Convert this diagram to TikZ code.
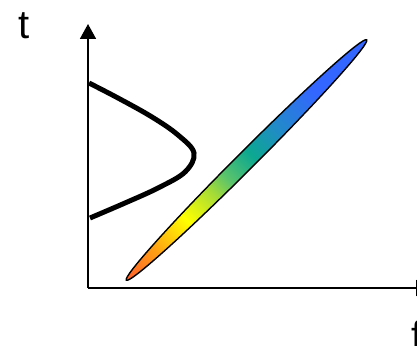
\documentclass[tikz,border=0pt]{standalone}
\usepackage{fontspec}
\setmainfont{Liberation Sans}
\usetikzlibrary{arrows.meta}
\definecolor{RedOrange}{HTML}{FF5E2C}
\definecolor{Amber}{HTML}{FF9E14}
\definecolor{Lemon}{HTML}{FFFF00}
\definecolor{Lime}{HTML}{A6DC36}
\definecolor{Leaf}{HTML}{5CC46A}
\definecolor{Teal}{HTML}{0CA890}
\definecolor{Steel}{HTML}{2388CC}
\definecolor{Royal}{HTML}{3366FF}
\pgfdeclarehorizontalshading{rainbow}{100bp}{color(0bp)=(RedOrange); color(25bp)=(RedOrange);
  color(31bp)=(Amber); color(37.5bp)=(Lemon); color(43bp)=(Lime); color(46bp)=(Leaf);
  color(51bp)=(Teal); color(57bp)=(Steel); color(64bp)=(Royal); color(100bp)=(Royal)}
\tikzset{
  axis/.style={-{Triangle[length=15pt,width=16pt]},draw=black,line width=1.8pt},
  curve/.style={draw=black,line width=5pt},
  band/.style={shading=rainbow,draw=black,line width=1.4pt},
  lbl/.style={inner sep=0pt,font=\fontsize{40}{48}\selectfont},
}
\begin{document}
\begin{tikzpicture}[x=1pt,y=-1pt]
    \useasboundingbox (0,0) rectangle (417,345);
    \coordinate (origin) at (88,288);
    \coordinate (ttip) at (88,24);
    \coordinate (ftip) at (431,288);
    \draw[axis] (origin) -- (ttip);
    \draw[axis] (origin) -- (ftip);
    \node[lbl,anchor=base] (tlbl) at (24,39) {t};
    \node[lbl,anchor=base west] (flbl) at (411,349) {f};
    % echo curve
    \draw[curve] plot[smooth,tension=0.6] coordinates {(89,83) (118,98) (152,117) (178,135)
      (194,153) (185,172) (158,188) (125,203) (90,218)};
    % tilted band
    \begin{scope}[transform canvas={shift={(246.5,160)},rotate=45}]
      \shadedraw[band] (0,0) ellipse [x radius=170, y radius=9];
    \end{scope}
\end{tikzpicture}
\end{document}
